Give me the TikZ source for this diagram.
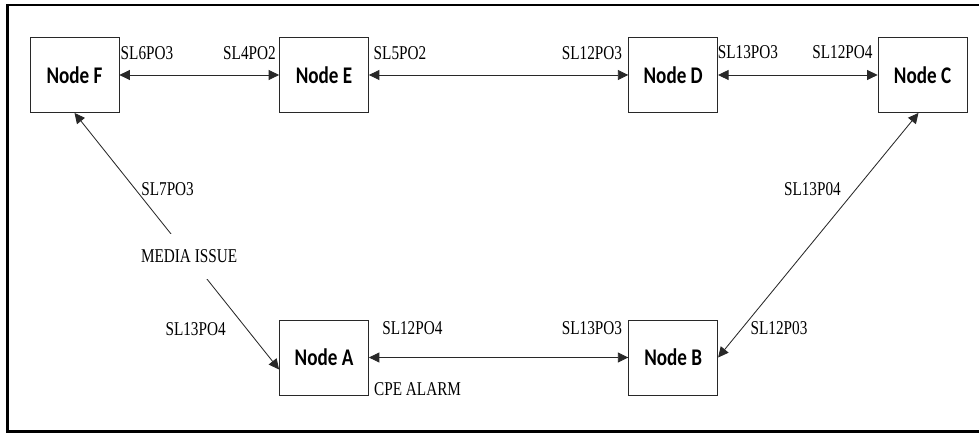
\documentclass[tikz,border=0pt]{standalone}
\usepackage{fontspec}
\usepackage{tikz}
\usetikzlibrary{arrows.meta}
\newfontfamily\boxfont[FakeStretch=0.8]{Carlito}
\newfontfamily\tagfont[FakeStretch=0.78]{Liberation Serif}
\definecolor{edge}{RGB}{40,40,40}

\begin{document}
\begin{tikzpicture}[>={Triangle[length=2.6mm,width=2.5mm]},
  nd/.style={draw=edge,line width=0.6pt,minimum width=2.225cm,minimum height=1.875cm,inner sep=0pt,font=\boxfont\bfseries\fontsize{17}{20}\selectfont},
  tag/.style={font=\tagfont\fontsize{13.9}{16}\selectfont,inner sep=1pt},
  ln/.style={<->,draw=edge,line width=0.6pt}]
  \useasboundingbox (0,0) rectangle (24.475,10.825);
  \draw[line width=2pt] (24.475,10.7) -- (0.1875,10.7) -- (0.1875,0.0375) -- (24.475,0.0375);
  \node[nd] (F) at (1.8625,8.95) {Node F};
  \node[nd] (E) at (8.1,8.95) {Node E};
  \node[nd] (D) at (16.83,8.95) {Node D};
  \node[nd] (C) at (23.0625,8.95) {Node C};
  \node[nd] (A) at (8.1,1.8875) {Node A};
  \node[nd] (B) at (16.83,1.8875) {Node B};
  % port labels
  \node[tag] (fe1) at (3.675,9.5) {SL6PO3};
  \node[tag] (fe2) at (6.2375,9.5) {SL4PO2};
  \node[tag] (ed1) at (10.0,9.5) {SL5PO2};
  \node[tag] (ed2) at (14.8,9.5) {SL12PO3};
  \node[tag] (dc1) at (18.7,9.525) {SL13PO3};
  \node[tag] (dc2) at (21.06,9.525) {SL12PO4};
  \node[tag] (fa1) at (4.19,6.1) {SL7PO3};
  \node[tag] (fa2) at (4.89,2.6) {SL13PO4};
  \node[tag] (ab1) at (10.31,2.625) {SL12PO4};
  \node[tag] (ab2) at (14.8,2.625) {SL13PO3};
  \node[tag] (alm) at (10.44,1.1) {CPE ALARM};
  \node[tag] (cb1) at (20.31,6.1) {SL13P04};
  \node[tag] (cb2) at (19.475,2.625) {SL12P03};
  % links
  \draw[ln] (F) -- (E);
  \draw[ln] (E) -- (D);
  \draw[ln] (D) -- (C);
  \draw[ln] (A) -- (B);
  \draw[ln] (F.south) -- node[tag,pos=0.56,fill=white,inner ysep=0.4cm] (iss) {MEDIA ISSUE} ([yshift=-0.3cm]A.west);
  \draw[ln] ([xshift=-0.1cm]C.south) -- (B.east);
\end{tikzpicture}
\end{document}
